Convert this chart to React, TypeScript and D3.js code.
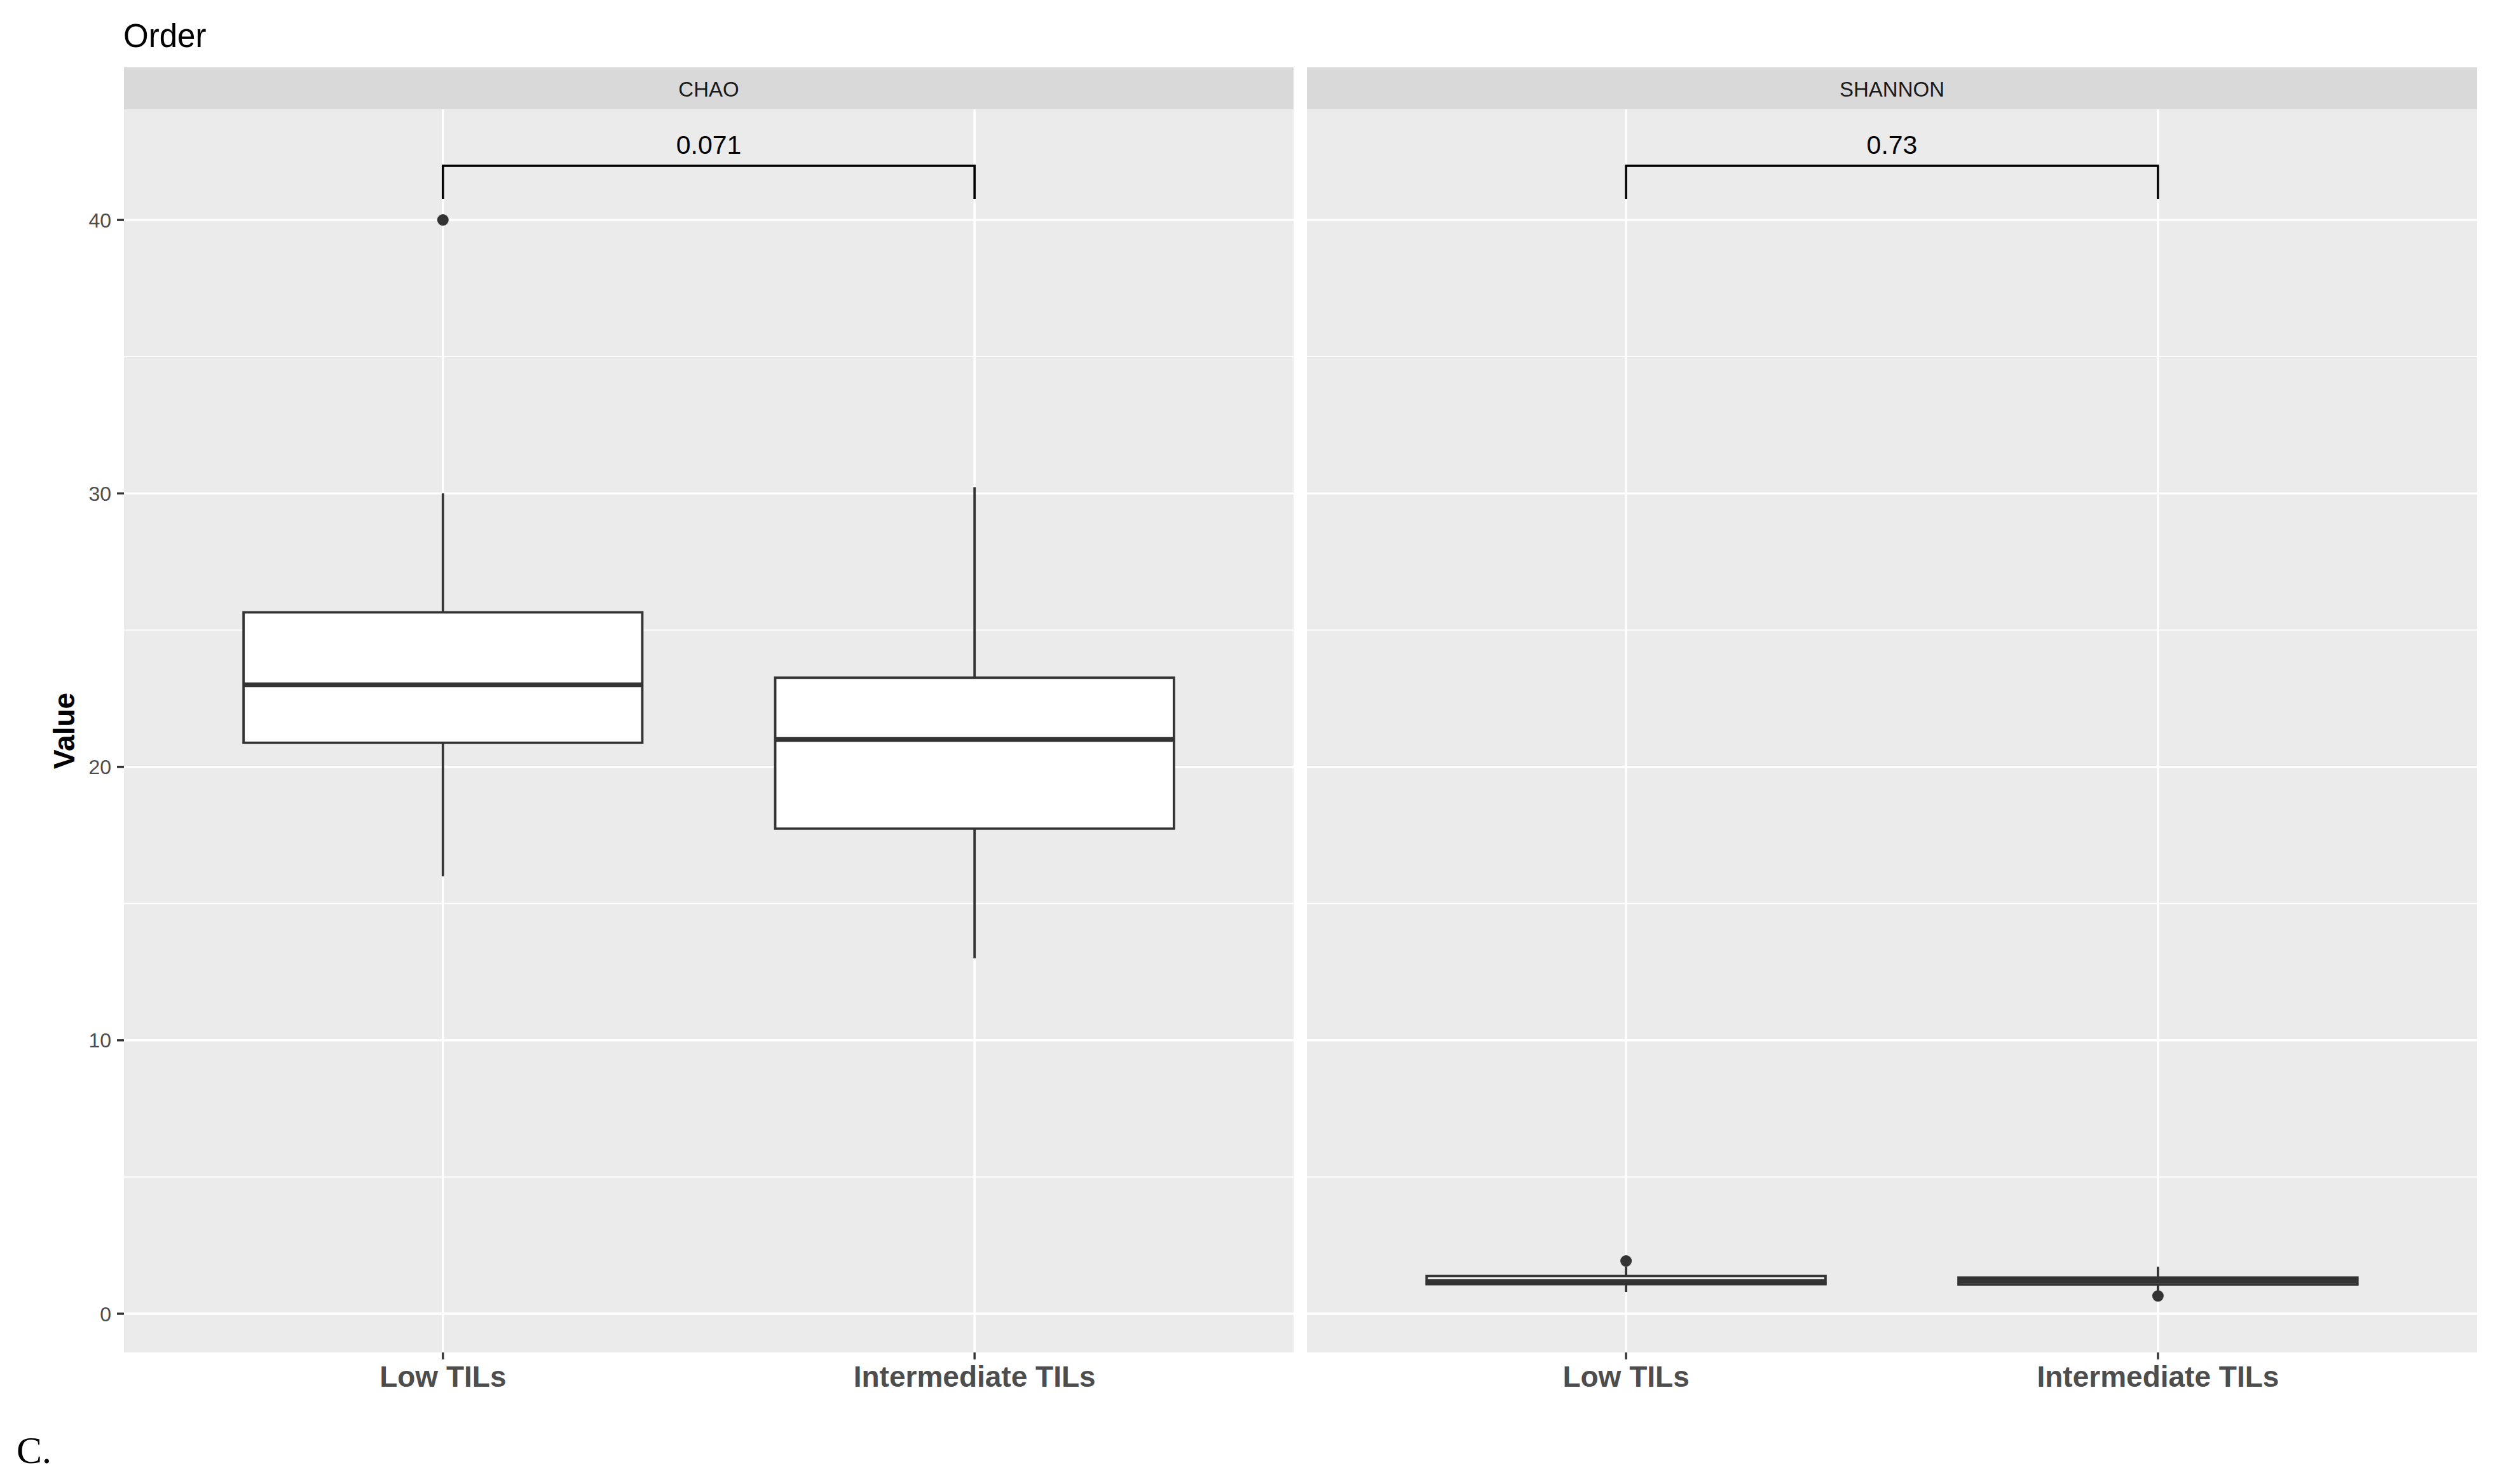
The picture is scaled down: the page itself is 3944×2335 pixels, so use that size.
import React from "react";
import * as d3 from "d3";

const groups = ["Low TILs", "Intermediate TILs"];
const facets = ["CHAO", "SHANNON"];

// CHAO box statistics (per group)
const chaoLower = [16.0, 13.0];
const chaoQ1 = [20.88, 17.74];
const chaoMedian = [23.0, 21.0];
const chaoQ3 = [25.65, 23.26];
const chaoUpper = [30.0, 30.23];
const chaoOutliers = [[40.0], []];

// SHANNON box statistics (per group)
const shannonLower = [0.79, 0.84];
const shannonQ1 = [1.08, 1.07];
const shannonMedian = [1.18, 1.2];
const shannonQ3 = [1.38, 1.32];
const shannonUpper = [1.72, 1.72];
const shannonOutliers = [[1.93], [0.65]];

const pValues = ["0.071", "0.73"];
const bracketTop = 41.98;
const bracketTip = 40.77;

const yMajorTicks = [0, 10, 20, 30, 40];
const yMinorTicks = [5, 15, 25, 35];

const W = 3944;
const H = 2335;
const FONT = "'Liberation Sans', Arial, Helvetica, sans-serif";

export default function App() {
  const panelTop = 172;
  const panelBottom = 2128;
  const stripTop = 106;
  const panels = [
    { x0: 195, x1: 2035 },
    { x0: 2056, x1: 3897 },
  ];

  const stats = [
    { lower: chaoLower, q1: chaoQ1, median: chaoMedian, q3: chaoQ3, upper: chaoUpper, out: chaoOutliers },
    { lower: shannonLower, q1: shannonQ1, median: shannonMedian, q3: shannonQ3, upper: shannonUpper, out: shannonOutliers },
  ];

  const allVals: number[] = [bracketTop];
  stats.forEach((s) => {
    s.lower.forEach((v) => allVals.push(v));
    s.upper.forEach((v) => allVals.push(v));
    s.out.forEach((o) => o.forEach((v) => allVals.push(v)));
  });
  const dmin = d3.min(allVals) as number;
  const dmax = d3.max(allVals) as number;
  const pad = (dmax - dmin) * 0.05;
  const y = d3.scaleLinear().domain([dmin - pad, dmax + pad]).range([panelBottom, panelTop]);

  const boxW = 0.75;
  const lineCol = "#333333";
  const lw = 3.8;

  return (
    <svg
      width={W}
      height={H}
      viewBox={`0 0 ${W} ${H}`}
      style={{ position: "absolute", left: 0, top: 0, background: "#fff" }}
    >
      <rect x={0} y={0} width={W} height={H} fill="#ffffff" />
      <text x={194} y={74} fontFamily={FONT} fontSize={51} fill="#000">
        Order
      </text>

      {/* y axis */}
      <text
        transform={`translate(117, ${(panelTop + panelBottom) / 2}) rotate(-90)`}
        textAnchor="middle"
        fontFamily={FONT}
        fontSize={46}
        fontWeight="bold"
        fill="#000"
      >
        Value
      </text>
      {yMajorTicks.map((t) => (
        <g key={"yt" + t}>
          <text
            x={175}
            y={y(t)}
            dy="0.36em"
            textAnchor="end"
            fontFamily={FONT}
            fontSize={32}
            fill="#4d4d4d"
          >
            {t}
          </text>
          <line x1={184} x2={195} y1={y(t)} y2={y(t)} stroke={lineCol} strokeWidth={3.4} />
        </g>
      ))}

      {panels.map((p, pi) => {
        const x = d3.scalePoint<string>().domain(groups).range([p.x0, p.x1]).padding(0.6);
        const unit = x.step();
        const cx = (g: string) => x(g) as number;
        const s = stats[pi];
        const mid = (p.x0 + p.x1) / 2;
        const bw = boxW * unit;
        return (
          <g key={"panel" + pi}>
            {/* strip */}
            <rect x={p.x0} y={stripTop} width={p.x1 - p.x0} height={panelTop - stripTop} fill="#d9d9d9" />
            <text x={mid} y={152} textAnchor="middle" fontFamily={FONT} fontSize={33} fill="#1a1a1a">
              {facets[pi]}
            </text>
            {/* panel background */}
            <rect x={p.x0} y={panelTop} width={p.x1 - p.x0} height={panelBottom - panelTop} fill="#ebebeb" />
            {yMinorTicks.map((t) => (
              <line key={"mn" + t} x1={p.x0} x2={p.x1} y1={y(t)} y2={y(t)} stroke="#ffffff" strokeWidth={1.8} />
            ))}
            {yMajorTicks.map((t) => (
              <line key={"mj" + t} x1={p.x0} x2={p.x1} y1={y(t)} y2={y(t)} stroke="#ffffff" strokeWidth={3.4} />
            ))}
            {groups.map((g) => (
              <line key={"vg" + g} x1={cx(g)} x2={cx(g)} y1={panelTop} y2={panelBottom} stroke="#ffffff" strokeWidth={3.4} />
            ))}

            {/* boxplots */}
            {groups.map((g, gi) => {
              const c = cx(g);
              return (
                <g key={"box" + g}>
                  <line x1={c} x2={c} y1={y(s.upper[gi])} y2={y(s.q3[gi])} stroke={lineCol} strokeWidth={lw} />
                  <line x1={c} x2={c} y1={y(s.q1[gi])} y2={y(s.lower[gi])} stroke={lineCol} strokeWidth={lw} />
                  <rect
                    x={c - bw / 2}
                    y={y(s.q3[gi])}
                    width={bw}
                    height={y(s.q1[gi]) - y(s.q3[gi])}
                    fill="#ffffff"
                    stroke={lineCol}
                    strokeWidth={lw}
                  />
                  <line
                    x1={c - bw / 2}
                    x2={c + bw / 2}
                    y1={y(s.median[gi])}
                    y2={y(s.median[gi])}
                    stroke={lineCol}
                    strokeWidth={lw * 2}
                  />
                  {s.out[gi].map((v, oi) => (
                    <circle key={"o" + oi} cx={c} cy={y(v)} r={9} fill={lineCol} />
                  ))}
                </g>
              );
            })}

            {/* significance bracket */}
            <path
              d={`M${cx(groups[0])},${y(bracketTip)} L${cx(groups[0])},${y(bracketTop)} L${cx(groups[1])},${y(bracketTop)} L${cx(groups[1])},${y(bracketTip)}`}
              fill="none"
              stroke="#000"
              strokeWidth={3.6}
            />
            <text
              x={(cx(groups[0]) + cx(groups[1])) / 2}
              y={242}
              textAnchor="middle"
              fontFamily={FONT}
              fontSize={41}
              fill="#000"
            >
              {pValues[pi]}
            </text>

            {/* x axis */}
            {groups.map((g) => (
              <g key={"xt" + g}>
                <line x1={cx(g)} x2={cx(g)} y1={panelBottom} y2={panelBottom + 11} stroke={lineCol} strokeWidth={3.4} />
                <text
                  x={cx(g)}
                  y={2182}
                  textAnchor="middle"
                  fontFamily={FONT}
                  fontSize={46}
                  fontWeight="bold"
                  fill="#4d4d4d"
                >
                  {g}
                </text>
              </g>
            ))}
          </g>
        );
      })}

      <text x={26} y={2302} fontFamily="'Liberation Serif', 'Times New Roman', serif" fontSize={60} fill="#000">
        C.
      </text>
    </svg>
  );
}
